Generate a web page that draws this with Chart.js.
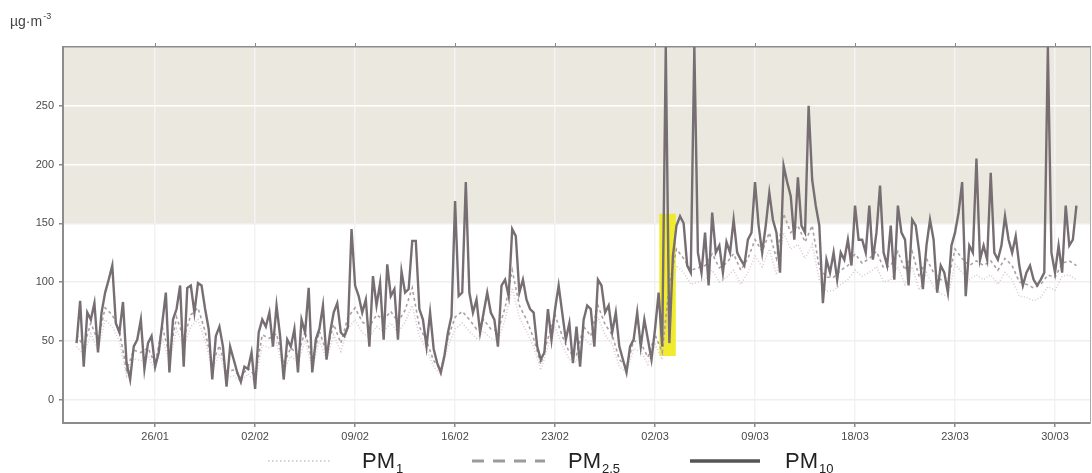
<!DOCTYPE html>
<html>
<head>
<meta charset="utf-8">
<script src="https://cdn.jsdelivr.net/npm/chart.js@4.4.1/dist/chart.umd.min.js"></script>
<style>
html, body { margin: 0; padding: 0; background: #fff; }
</style>
</head>
<body>
<canvas id="pm-chart" width="1092" height="473"></canvas>
<script>
// days counted from 26/01 (day 0)
var xLabels = ["26/01", "02/02", "09/02", "16/02", "23/02", "02/03", "09/03", "18/03", "23/03", "30/03"];
var tickDays = [0, 7, 14, 21, 28, 35, 42, 49, 56, 63];
var yTicks = [0, 50, 100, 150, 200, 250];
var limitValue = 150;

// PM10, one reading every 6 h from day -5.5
var pm10Start = -5.5, pm10Step = 0.25;
var pm10 = [
	48,84,28,74, 68,82,40,74, 91,102,114,65, 57,83,31,17, 45,51,68,26, 48,54,
	28,40,65,91, 23,68,77,97, 28,95,97,74, 99,97,77,60, 17,54,62,45, 11,45,34,23, 15,28,26,40,
	9,57,68,62, 74,45,80,54, 17,51,45,60, 23,68,57,95, 23,51,60,80, 34,57,74,82, 57,54,62,145,
	97,88,74,85, 45,105,80,99, 51,115,88,94, 51,109,91,94, 135,135,77,68, 45,74,43,31, 23,37,57,71,
	169,88,91,185, 91,74,85,57, 74,91,74,68, 45,97,102,88, 145,139,91,102, 85,77,74,45, 34,40,77,51,
	77,97,74,51, 65,31,62,28, 68,80,77,45, 102,97,74,80, 57,74,45,34, 23,45,51,74, 45,68,51,34,
	60,91,45,300, 48,122,148,156, 150,114,108,300, 125,108,142,97, 159,125,131,108, 134,125,153,125, 119,114,136,142,
	185,148,125,148, 176,153,142,108, 199,185,173,136, 189,148,142,250, 187,165,148,82, 119,108,125,102, 125,119,136,114,
	165,136,136,125, 165,119,142,182, 125,114,148,102, 165,142,136,97, 153,148,125,94, 131,153,136,91, 114,108,91,131,
	142,159,185,88, 131,125,205,119, 131,119,193,125, 119,131,156,136, 125,139,114,97, 108,114,102,97, 102,108,300,125,
	108,131,108,165, 131,136,165
];

// PM2.5 and PM1, one reading every 12 h from day -5.5
var fineStart = -5.5, fineStep = 0.5;
var pm25 = [
	55,45,65,50,78,72,58,25,42,40,44,
	30,62,38,70,52,72,78,58,30,46,24,25,19,27,
	20,55,52,56,30,44,38,58,32,58,40,64,48,70,
	78,66,62,72,68,75,66,76,95,62,50,33,25,52,
	70,75,68,60,68,60,58,78,110,80,68,52,30,52,
	72,54,40,38,62,54,80,64,55,34,28,50,48,36,
	55,40,98,128,120,110,112,114,124,112,116,124,110,120,
	136,126,142,120,158,142,148,134,148,112,104,104,110,114,
	124,116,120,126,112,114,126,110,126,104,120,108,102,100,
	128,120,114,118,114,118,110,120,114,100,98,95,98,106,
	104,116,118,114
];
var pm1 = [
	45,38,56,42,68,62,50,20,35,33,37,
	25,52,32,60,45,62,68,50,25,39,19,20,15,22,
	15,46,44,48,25,37,32,50,27,50,34,55,41,60,
	68,57,53,62,58,65,57,66,80,54,43,28,21,45,
	60,65,58,52,58,52,50,68,95,70,58,45,25,45,
	62,46,34,32,53,46,70,55,47,28,23,43,41,30,
	47,34,86,114,108,98,100,102,110,100,104,110,98,108,
	122,113,128,106,142,128,132,120,132,102,92,93,98,102,
	110,105,108,113,100,102,113,98,113,93,108,96,90,88,
	115,108,102,106,102,106,98,108,102,88,87,84,87,96,
	93,105,106,102
];

// marked period (days) and its value range
var highlightDays = [35.3, 36.45];
var highlightRange = [37, 158];

function toPoints(values, start, step) {
	var pts = [];
	for (var i = 0; i < values.length; i++)
		pts.push({ x: start + i * step, y: values[i] });
	return pts;
}

var narrow = "'Liberation Sans Narrow', 'Liberation Sans', Arial, sans-serif";

var bandPlugin = {
	id: "band",
	beforeDraw: function (chart) {
		var ctx = chart.ctx, a = chart.chartArea, y = chart.scales.y;
		ctx.save();
		ctx.fillStyle = "#ebe9df";
		var top = y.getPixelForValue(y.max);
		ctx.fillRect(a.left, top, a.right - a.left, y.getPixelForValue(limitValue) - top);
		ctx.restore();
	},
	beforeDatasetsDraw: function (chart) {
		var ctx = chart.ctx, x = chart.scales.x, y = chart.scales.y;
		var x0 = x.getPixelForValue(highlightDays[0]), x1 = x.getPixelForValue(highlightDays[1]);
		var y0 = y.getPixelForValue(highlightRange[1]), y1 = y.getPixelForValue(highlightRange[0]);
		ctx.save();
		ctx.fillStyle = "rgba(240,234,25,0.92)";
		ctx.fillRect(x0, y0, x1 - x0, y1 - y0);
		ctx.restore();
	},
	afterDraw: function (chart) {
		var ctx = chart.ctx;
		ctx.save();
		ctx.fillStyle = "#444";
		ctx.font = "14px 'Liberation Sans', Arial, sans-serif";
		ctx.textBaseline = "alphabetic";
		ctx.fillText("\u00b5g\u00b7m", 10, 26);
		var w = ctx.measureText("\u00b5g\u00b7m").width;
		ctx.font = "9px 'Liberation Sans', Arial, sans-serif";
		ctx.fillText("-3", 10 + w + 1, 19);

		// legend
		var keys = [
			{ sub: "1", color: "#c9c2c6", width: 1.5, dash: [1.5, 2.5], x0: 268, x1: 332, tx: 362 },
			{ sub: "2,5", color: "#9b9b9b", width: 3, dash: [12, 9], x0: 472, x1: 545, tx: 568 },
			{ sub: "10", color: "#555", width: 3.5, dash: [], x0: 690, x1: 760, tx: 785 }
		];
		var ly = 461;
		keys.forEach(function (k) {
			ctx.beginPath();
			ctx.setLineDash(k.dash);
			ctx.lineWidth = k.width;
			ctx.strokeStyle = k.color;
			ctx.moveTo(k.x0, ly);
			ctx.lineTo(k.x1, ly);
			ctx.stroke();
			ctx.setLineDash([]);
			ctx.fillStyle = "#222";
			ctx.font = "22px " + narrow;
			ctx.fillText("PM", k.tx, 468);
			var pw = ctx.measureText("PM").width;
			ctx.font = "13px " + narrow;
			ctx.fillText(k.sub, k.tx + pw + 1, 473);
		});
		ctx.restore();
	}
};

var ctx = document.getElementById("pm-chart");

var data = {
	datasets: [
		{
			label: "PM10",
			data: toPoints(pm10, pm10Start, pm10Step),
			borderColor: "#776e73",
			borderWidth: 2.4,
			pointRadius: 0
		},
		{
			label: "PM2,5",
			data: toPoints(pm25, fineStart, fineStep),
			borderColor: "#aa9fa5",
			borderWidth: 1.6,
			borderDash: [3, 3],
			pointRadius: 0
		},
		{
			label: "PM1",
			data: toPoints(pm1, fineStart, fineStep),
			borderColor: "#dccad1",
			borderWidth: 1.6,
			borderDash: [1, 2],
			pointRadius: 0
		}
	]
};

var xMin = -6.45, xMax = 65.45;
var setXTicks = function (s) { s.ticks = tickDays.map(function (v) { return { value: v }; }); };

var options = {
	responsive: false,
	animation: false,
	layout: { padding: 0 },
	plugins: { legend: { display: false }, tooltip: { enabled: false } },
	scales: {
		x: {
			type: "linear", position: "bottom", min: xMin, max: xMax,
			afterBuildTicks: setXTicks,
			afterFit: function (s) { s.height = 50; },
			ticks: {
				callback: function (v) { return xLabels[tickDays.indexOf(v)]; },
				color: "#4a4a4a", font: { family: narrow, size: 11 },
				maxRotation: 0, autoSkip: false, padding: 3
			},
			grid: { color: "#f3f3f3", lineWidth: 1.5, tickLength: 4, tickColor: "#888" },
			border: { color: "#8c8c8c", width: 2 }
		},
		xTop: {
			type: "linear", position: "top", min: xMin, max: xMax,
			afterBuildTicks: setXTicks,
			afterFit: function (s) { s.height = 47; },
			ticks: { display: false },
			grid: { drawOnChartArea: false, tickLength: 4, tickColor: "#888" },
			border: { color: "#8c8c8c", width: 1.5 }
		},
		y: {
			min: -20, max: 300,
			afterBuildTicks: function (s) { s.ticks = yTicks.map(function (v) { return { value: v }; }); },
			afterFit: function (s) { s.width = 63; },
			ticks: { color: "#4a4a4a", font: { family: narrow, size: 11 }, padding: 5 },
			grid: {
				color: function (c) { return c.tick && c.tick.value > limitValue ? "#ffffff" : "#efefef"; },
				lineWidth: 1.5, tickLength: 4, tickColor: "#888"
			},
			border: { color: "#8c8c8c", width: 2 }
		},
		yRight: {
			position: "right", min: -20, max: 300,
			afterFit: function (s) { s.width = 2; },
			ticks: { display: false },
			grid: { drawOnChartArea: false, drawTicks: false },
			border: { color: "#aaa", width: 1 }
		}
	}
};

var chart = new Chart(ctx, {
	type: "line",
	data: data,
	options: options,
	plugins: [bandPlugin]
});
</script>
</body>
</html>
